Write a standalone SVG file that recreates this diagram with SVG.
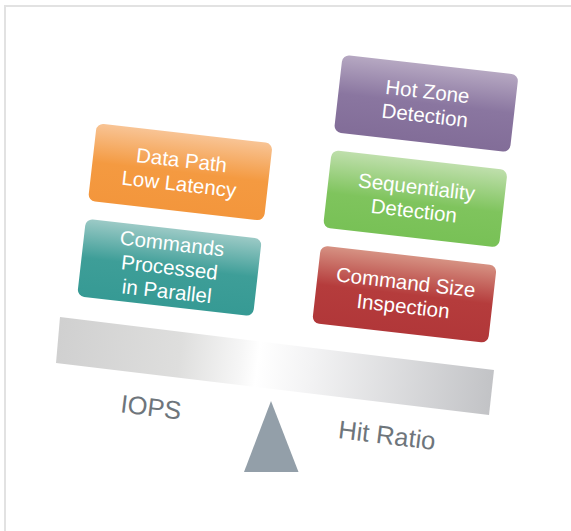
<svg xmlns="http://www.w3.org/2000/svg" width="571" height="531" viewBox="0 0 571 531">
<style>
.box text{font-family:"Liberation Sans",Arial,sans-serif;font-size:20.5px;fill:#ffffff;text-anchor:middle}
.lbl{font-family:"Liberation Sans",Arial,sans-serif;font-size:25.5px;fill:#6e757b;text-anchor:middle}
</style>
<defs>
<linearGradient id="gOrange" x1="0" y1="0" x2="0" y2="1"><stop offset="0" stop-color="#f8c495"/><stop offset="0.5" stop-color="#f49a41"/><stop offset="1" stop-color="#f3963c"/></linearGradient>
<linearGradient id="gTeal" x1="0" y1="0" x2="0" y2="1"><stop offset="0" stop-color="#9ccac6"/><stop offset="0.5" stop-color="#3e9e98"/><stop offset="1" stop-color="#369a94"/></linearGradient>
<linearGradient id="gPurple" x1="0" y1="0" x2="0" y2="1"><stop offset="0" stop-color="#b6a8c2"/><stop offset="0.5" stop-color="#8a76a0"/><stop offset="1" stop-color="#826d98"/></linearGradient>
<linearGradient id="gGreen" x1="0" y1="0" x2="0" y2="1"><stop offset="0" stop-color="#bfdfac"/><stop offset="0.55" stop-color="#7fc45d"/><stop offset="1" stop-color="#78c156"/></linearGradient>
<linearGradient id="gRed" x1="0" y1="0" x2="0" y2="1"><stop offset="0" stop-color="#d69283"/><stop offset="0.5" stop-color="#b53c3c"/><stop offset="1" stop-color="#b13739"/></linearGradient>
<linearGradient id="gBeam" gradientUnits="userSpaceOnUse" x1="58" y1="340" x2="492" y2="392"><stop offset="0" stop-color="#d0d0d0"/><stop offset="0.28" stop-color="#dededd"/><stop offset="0.42" stop-color="#f6f6f6"/><stop offset="0.46" stop-color="#ffffff"/><stop offset="0.58" stop-color="#f3f3f4"/><stop offset="1" stop-color="#c2c3c6"/></linearGradient>
</defs>
<path d="M5 531 V6 H571" fill="none" stroke="#e2e2e2" stroke-width="2"/>
<g id="beam"><polygon points="60,317 494,370 489,415 56,363" fill="url(#gBeam)"/></g>
<g id="fulcrum"><polygon points="271,401 298.5,472 244,472" fill="#939fa9"/></g>
<g transform="rotate(6.5 285 265)">
<g id="hot-zone" class="box"><rect x="318.5" y="49.5" width="177" height="78" rx="7" fill="url(#gPurple)"/><text x="407" y="83.5">Hot Zone</text><text x="407" y="107.5">Detection</text></g>
<g id="sequentiality" class="box"><rect x="318.5" y="145.5" width="177" height="78" rx="7" fill="url(#gGreen)"/><text x="407" y="179.5">Sequentiality</text><text x="407" y="203.5">Detection</text></g>
<g id="command-size" class="box"><rect x="318.5" y="241.5" width="177" height="78" rx="7" fill="url(#gRed)"/><text x="407" y="275.5">Command Size</text><text x="407" y="299.5">Inspection</text></g>
<g id="data-path" class="box"><rect x="82" y="145.5" width="177" height="78" rx="7" fill="url(#gOrange)"/><text x="170.5" y="179.5">Data Path</text><text x="170.5" y="203.5">Low Latency</text></g>
<g id="commands" class="box"><rect x="82" y="241.5" width="177" height="78" rx="7" fill="url(#gTeal)"/><text x="170.5" y="263.5">Commands</text><text x="170.5" y="287.5">Processed</text><text x="170.5" y="311.5">in Parallel</text></g>
</g>
<g id="labels">
<text class="lbl" transform="translate(151 407) rotate(7)" y="9">IOPS</text>
<text class="lbl" transform="translate(387 435) rotate(7)" y="9">Hit Ratio</text>
</g>
<g id="connectors"/>
</svg>
